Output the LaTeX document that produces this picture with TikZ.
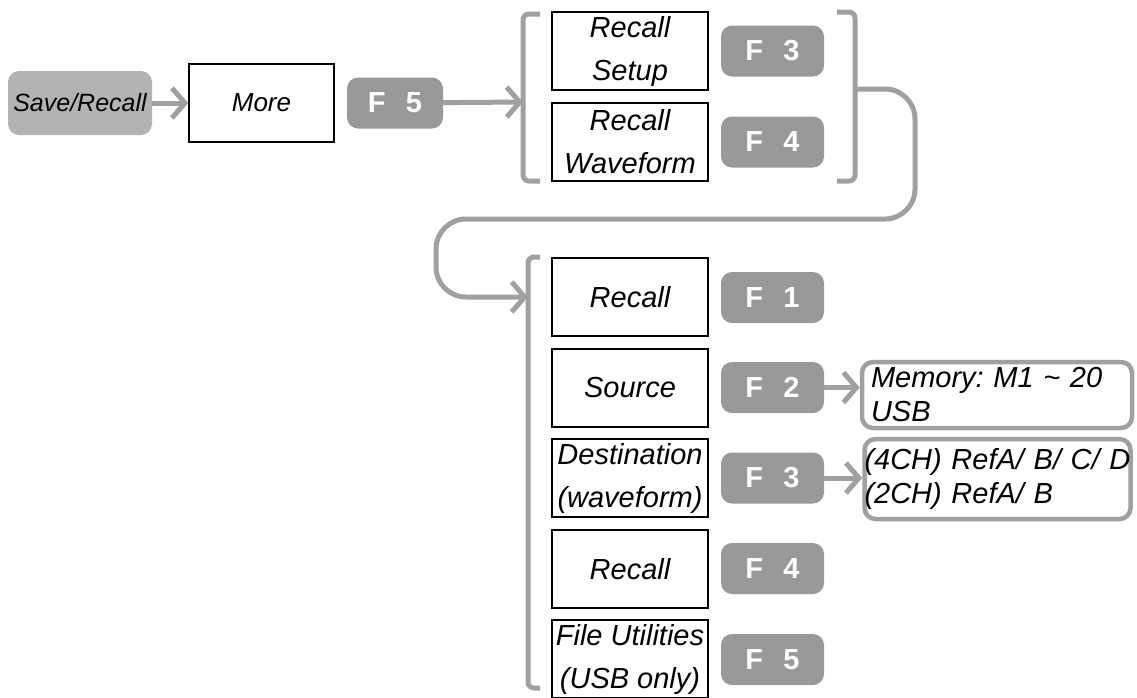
\documentclass[tikz,border=0pt]{standalone}
\usepackage{fontspec}
\setmainfont{Liberation Sans}
\usetikzlibrary{arrows.meta}
\definecolor{btn}{HTML}{999999}
\definecolor{lgray}{HTML}{B3B3B3}
\definecolor{lin}{HTML}{A0A0A0}
\frenchspacing
\newcommand{\fkey}[1]{F\hspace{0.7em}#1}
\tikzset{
  wbox/.style={draw=black, line width=1.5pt, fill=white, inner sep=0pt, align=center,
     minimum width=156pt, minimum height=78pt, font=\fontsize{29}{43}\selectfont\itshape},
  fbtn/.style={fill=btn, rounded corners=11pt, inner sep=0pt, minimum width=103pt, minimum height=51pt,
     text=white, font=\fontsize{29}{36}\selectfont\bfseries},
  conn/.style={draw=lin, line width=5pt, -{Straight Barb[length=13pt,width=30pt]}},
  brk/.style={draw=lin, line width=5pt, rounded corners=6pt},
  obox/.style={draw=lin, line width=4.5pt, rounded corners=11pt, fill=white, inner sep=0pt, align=left,
     text width=266pt, minimum height=66pt, font=\fontsize{29}{34}\selectfont\itshape}
}
\begin{document}
\begin{tikzpicture}[x=1pt,y=-1pt]
\useasboundingbox (0,0) rectangle (1137,697);
% top row
\node[fill=lgray, rounded corners=11pt, minimum width=144pt, minimum height=64pt, inner sep=0pt,
   font=\fontsize{25}{30}\selectfont\itshape] (sr) at (80,103) {Save/Recall};
\node[wbox, minimum width=145pt, font=\fontsize{26}{30}\selectfont\itshape] (more) at (261.5,103) {More};
\node[fbtn, minimum width=96pt] (f5a) at (395,103) {\fkey{5}};
\draw[conn] (sr) -- (more);
% top bracket group
\draw[brk] (540,14) -- (523,14) -- (523,181) -- (540,181);
\coordinate (lb1) at (523,102);
\draw[conn] (f5a) -- (lb1);
\node[wbox] (rs) at (630,51) {Recall\\Setup};
\node[wbox] (rw) at (630,142) {Recall\\Waveform};
\node[fbtn] (f3a) at (772.5,51) {\fkey{3}};
\node[fbtn] (f4a) at (772.5,142) {\fkey{4}};
\draw[brk] (837,12) -- (855,12) -- (855,181) -- (837,181);
\coordinate (rb1) at (855,89);
\coordinate (lb2) at (528,297);
\draw[conn, rounded corners=30pt] (rb1) -- (915,89) -- (915,219) -- (436,219) -- (436,297) -- (lb2);
% lower bracket group
\draw[brk] (540,257) -- (528,257) -- (528,688) -- (540,688);
\node[wbox] (r1) at (630,297) {Recall};
\node[wbox] (src) at (630,388) {Source};
\node[wbox] (dst) at (630,478) {Destination\\(waveform)};
\node[wbox] (r2) at (630,569) {Recall};
\node[wbox] (fu) at (630,659) {File Utilities\\(USB only)};
\node[fbtn] (f1) at (772.5,297.5) {\fkey{1}};
\node[fbtn] (f2) at (772.5,387.5) {\fkey{2}};
\node[fbtn] (f3b) at (772.5,478) {\fkey{3}};
\node[fbtn] (f4b) at (772.5,568.5) {\fkey{4}};
\node[fbtn] (f5b) at (772.5,659.5) {\fkey{5}};
% option boxes
\node[obox, text width=252pt, inner xsep=9pt] (mem) at (997,395) {Memory: M1 \char`~{} 20\\USB};
\node[obox, minimum height=80pt] (ref) at (997.5,479) {(4CH) RefA/ B/ C/ D\\(2CH) RefA/ B};
\draw[conn] (f2) -- (f2.east -| mem.west);
\draw[conn] (f3b) -- (f3b.east -| ref.west);
\end{tikzpicture}
\end{document}
